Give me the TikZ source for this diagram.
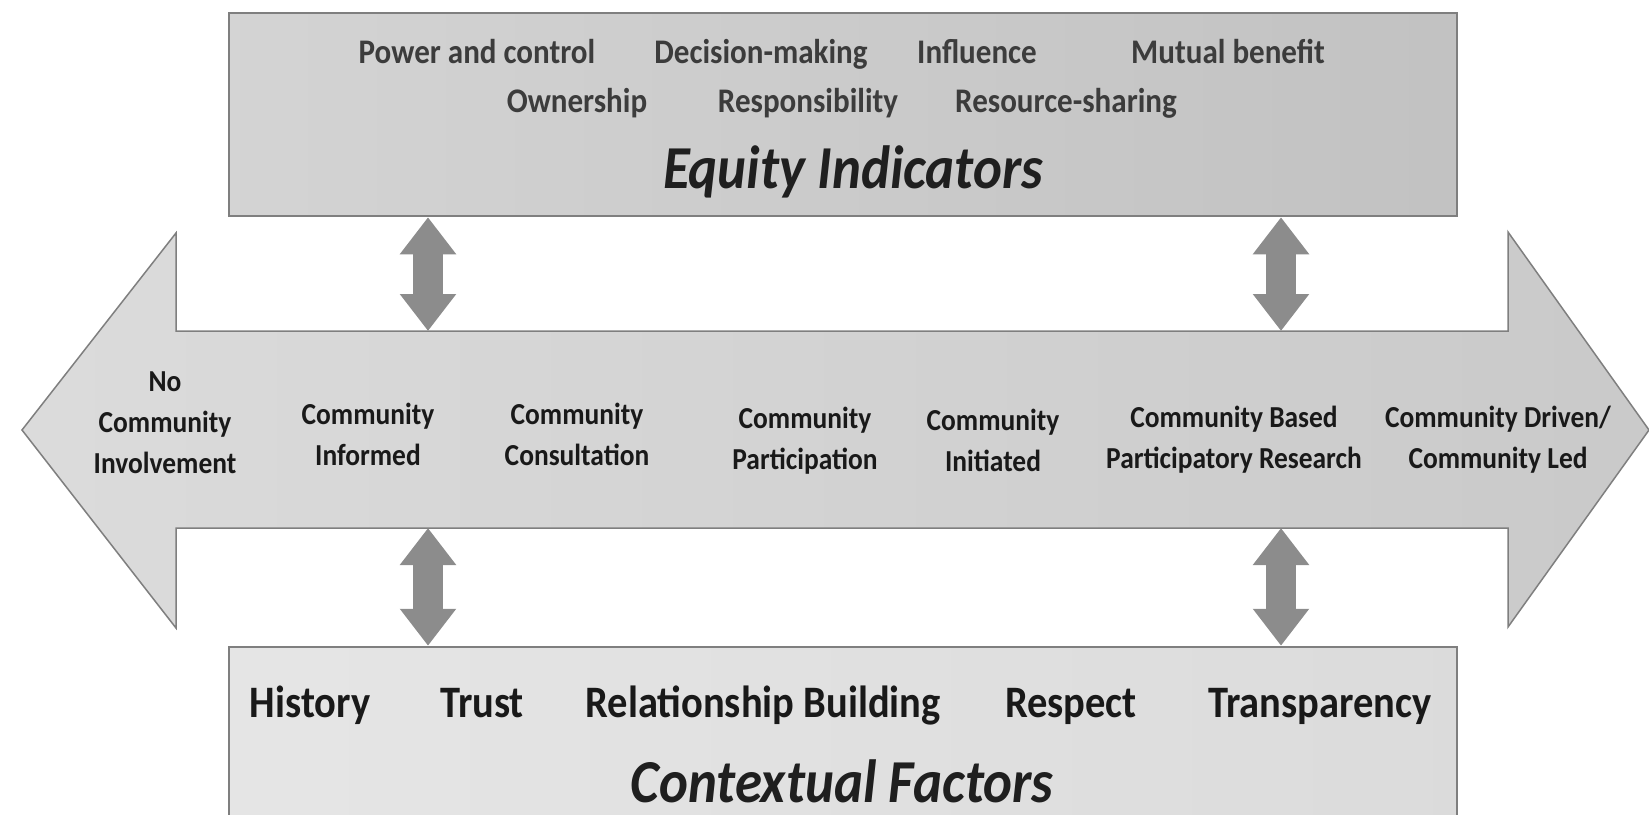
\documentclass[tikz,border=0pt]{standalone}
\usepackage{fontspec}
\setmainfont{Carlito}
\usetikzlibrary{calc,arrows.meta}

\definecolor{boxline}{HTML}{7F7F7F}
\definecolor{linkfill}{HTML}{8C8C8C}
\definecolor{toptext}{HTML}{3C3C3C}

\begin{document}
\begin{tikzpicture}[x=1pt,y=-1pt,
    box/.style={draw=boxline, line width=2.5pt, minimum width=1228, inner sep=0pt},
    indicator/.style={font=\fontsize{34.5}{40}\selectfont\bfseries, text=toptext, anchor=base, xscale=0.9, inner sep=0pt},
    stage/.style={font=\fontsize{30.5}{41}\selectfont\bfseries, text=black!90, align=center, xscale=0.9, inner sep=0pt},
    factor/.style={font=\fontsize{45}{50}\selectfont\bfseries, text=black!90, anchor=base, xscale=0.9, inner sep=0pt},
    heading/.style={font=\fontsize{61}{66}\selectfont\bfseries\itshape, text=black!88, anchor=base, xscale=0.9, inner sep=0pt},
    link/.style={linkfill, line width=30pt,
      {Triangle[width=54pt,length=37pt]}-{Triangle[width=54pt,length=37pt]}}]

    \clip (0,0) rectangle (1649,814);

    % Boxes
    \node[box, minimum height=203, left color=black!17, right color=black!24] (equity) at (843,114.5) {};
    \node[box, minimum height=220, left color=black!10, right color=black!14] (context) at (843,757) {};

    % Band (double arrow)
    \coordinate (tipL) at (22,430);
    \coordinate (tipR) at (1649,430);
    \coordinate (shaftTL) at (176,331);
    \coordinate (shaftTR) at (1508,331);
    \coordinate (shaftBL) at (176,528);
    \coordinate (shaftBR) at (1508,528);

    \draw[boxline, line width=1.5pt, left color=black!14, right color=black!21]
      (tipL) -- (shaftTL |- 0,233) -- (shaftTL) -- (shaftTR) -- (shaftTR |- 0,232)
      -- (tipR) -- (shaftBR |- 0,627) -- (shaftBR) -- (shaftBL) -- (shaftBL |- 0,628) -- cycle;

    % Links
    \coordinate (uL) at (428,331);
    \coordinate (uR) at (1281,331);
    \coordinate (dL) at (428,528);
    \coordinate (dR) at (1281,528);

    \draw[link] (uL |- equity.south) -- (uL);
    \draw[link] (uR |- equity.south) -- (uR);
    \draw[link] (dL) -- (dL |- context.north);
    \draw[link] (dR) -- (dR |- context.north);

    % Equity indicators
    \node[indicator] (power) at (477,63) {Power and control};
    \node[indicator] (decision) at (761,63) {Decision-making};
    \node[indicator] (influence) at (977,63) {Influence};
    \node[indicator] (mutual) at (1228,63) {Mutual benefit};
    \node[indicator] (owner) at (577,112) {Ownership};
    \node[indicator] (respons) at (808,112) {Responsibility};
    \node[indicator] (resource) at (1066,112) {Resource-sharing};
    \node[heading] (eqtitle) at (853,188) {Equity Indicators};

    % Stages
    \node[stage] (none) at (165,423) {No\\Community\\Involvement};
    \node[stage] (informed) at (368,434) {Community\\Informed};
    \node[stage] (consult) at (577,434) {Community\\Consultation};
    \node[stage] (particip) at (805,441) {Community\\Participation};
    \node[stage] (initiated) at (993,440) {Community\\Initiated};
    \node[stage] (cbpr) at (1234,440) {Community Based\\Participatory Research};
    \node[stage] (driven) at (1498,440) {Community Driven/\\Community Led};

    % Contextual factors
    \node[factor] (history) at (310,717) {History};
    \node[factor] (trust) at (482,717) {Trust};
    \node[factor] (relation) at (763,717) {Relationship Building};
    \node[factor] (respect) at (1071,717) {Respect};
    \node[factor] (transp) at (1320,717) {Transparency};
    \node[heading] (cftitle) at (842,802) {Contextual Factors};

\end{tikzpicture}
\end{document}
